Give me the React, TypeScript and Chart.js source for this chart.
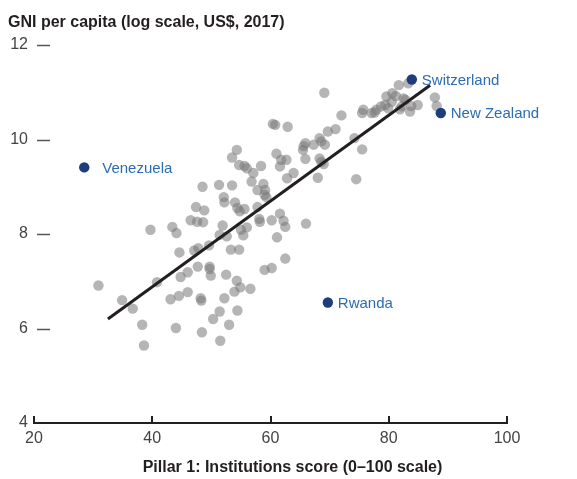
import React, { useEffect, useRef } from "react";
import { Chart, registerables } from "chart.js";

Chart.register(...registerables);

// Axis ticks
const xTicks = [20, 40, 60, 80, 100];
const yTicks = [4, 6, 8, 10, 12];

// Titles
const yTitle = "GNI per capita (log scale, US$, 2017)";
const xTitle = "Pillar 1: Institutions score (0–100 scale)";

// All other economies: institutions score (x) and log GNI per capita (y)
const otherScores = [
  39.7, 43.4, 44.1, 46.5, 47.6, 48.6, 44.6, 47.1, 47.8, 30.9, 40.8, 44.8, 46.0, 34.9, 36.7,
  43.1, 44.5, 46.0, 48.2, 48.3, 38.3, 44.0, 48.4, 38.6, 47.7,
  51.9, 51.4, 52.6, 55.0, 56.0, 55.4, 58.1, 58.2, 60.2, 62.2, 62.5, 66.0, 61.1, 49.6, 53.3,
  54.7, 62.5, 59.0, 60.2, 49.7, 49.7, 49.9, 52.5, 54.3, 54.9, 53.9, 56.6, 52.2, 51.4, 54.4,
  50.3, 53.0, 51.5,
  48.5, 47.4, 48.8,
  60.4, 60.8, 62.9, 54.3, 53.5, 54.7, 55.6, 56.0, 58.4, 57.1, 61.0, 61.8, 62.7, 61.6, 63.9,
  62.8, 56.8, 58.8, 59.1, 57.8, 59.0, 59.3, 51.3, 53.5, 52.1, 52.2, 54.0, 54.4, 54.8, 55.6,
  57.8, 61.6, 65.6, 65.5, 65.9, 67.3, 68.3, 68.6, 69.2, 69.7, 65.9, 68.3, 68.6, 69.0, 68.0,
  69.1,
  81.7, 83.3, 79.6, 80.6, 81.2, 82.5, 82.8, 79.4, 79.9, 80.5, 81.9, 82.2, 83.6, 83.8, 84.9,
  87.8, 88.1, 75.7, 75.5, 77.1, 77.6, 77.9, 78.7, 72.0, 71.0, 74.2, 75.5, 74.5,
];
const otherGni = [
  8.09, 8.15, 8.02, 8.29, 8.26, 8.25, 7.61, 7.65, 7.70, 6.91, 6.98, 7.09, 7.19, 6.60, 6.42,
  6.62, 6.69, 6.77, 6.64, 6.59, 6.08, 6.01, 5.92, 5.64, 7.31,
  8.18, 7.98, 7.95, 8.09, 8.14, 7.97, 8.32, 8.26, 8.29, 8.28, 8.15, 8.22, 7.93, 7.76, 7.67,
  7.67, 7.48, 7.24, 7.28, 7.31, 7.26, 7.12, 7.14, 7.01, 6.87, 6.78, 6.84, 6.64, 6.36, 6.38,
  6.20, 6.08, 5.74,
  9.00, 8.57, 8.50,
  10.33, 10.31, 10.27, 9.78, 9.62, 9.46, 9.44, 9.39, 9.44, 9.29, 9.70, 9.57, 9.57, 9.43, 9.29,
  9.18, 9.11, 9.06, 8.93, 8.93, 8.83, 8.78, 9.04, 9.03, 8.78, 8.67, 8.67, 8.55, 8.48, 8.53,
  8.57, 8.43, 9.86, 9.78, 9.92, 9.89, 10.03, 9.96, 9.89, 10.17, 9.59, 9.60, 9.53, 9.48, 9.19,
  10.99,
  11.15, 11.19, 10.91, 10.98, 10.92, 10.87, 10.84, 10.73, 10.66, 10.80, 10.64, 10.70, 10.59, 10.71, 10.73,
  10.89, 10.71, 10.63, 10.56, 10.56, 10.57, 10.63, 10.70, 10.51, 10.22, 10.03, 9.79, 9.16,
];

// Highlighted economies
const namedCountries = ["Venezuela", "Switzerland", "New Zealand", "Rwanda"];
const namedScores = [28.5, 83.9, 88.8, 69.7];
const namedGni = [9.41, 11.27, 10.56, 6.55];

// Fitted line end points
const fitScores = [32.5, 87.0];
const fitGni = [6.2, 11.15];

const FONT = "'Liberation Sans', Arial, Helvetica, sans-serif";
const INK = "#231f20";
const TICK_COLOR = "#444444";
const LABEL_BLUE = "#2b6cb3";
const DOT_NAVY = "#1f3c7c";

const decorPlugin = {
  id: "decor",
  afterDraw(chart: any) {
    const ctx = chart.ctx as CanvasRenderingContext2D;
    const xs = chart.scales.x;
    const ys = chart.scales.y;
    const area = chart.chartArea;
    ctx.save();

    // upward tick marks on the x axis
    ctx.strokeStyle = INK;
    ctx.lineWidth = 2;
    xTicks.forEach((v) => {
      const px = Math.round(xs.getPixelForValue(v));
      ctx.beginPath();
      ctx.moveTo(px, area.bottom + 1);
      ctx.lineTo(px, area.bottom - 7);
      ctx.stroke();
    });

    // short dashes next to the y labels
    ctx.strokeStyle = "#555555";
    ctx.lineWidth = 1.5;
    yTicks
      .filter((v) => v > ys.min)
      .forEach((v) => {
        const py = Math.round(ys.getPixelForValue(v)) + 0.5;
        ctx.beginPath();
        ctx.moveTo(area.left + 3, py);
        ctx.lineTo(area.left + 16, py);
        ctx.stroke();
      });

    // titles
    ctx.fillStyle = INK;
    ctx.font = `bold 16px ${FONT}`;
    ctx.textBaseline = "alphabetic";
    ctx.textAlign = "left";
    ctx.fillText(yTitle, 8, 27);
    ctx.textAlign = "center";
    ctx.fillText(xTitle, chart.width / 2 + 4, 472);

    // labels of the highlighted economies
    const meta = chart.getDatasetMeta(1);
    ctx.font = `15px ${FONT}`;
    ctx.fillStyle = LABEL_BLUE;
    ctx.textAlign = "left";
    ctx.textBaseline = "middle";
    const gaps: Record<string, number> = { Venezuela: 18 };
    meta.data.forEach((el: any, i: number) => {
      const name = namedCountries[i];
      const gap = gaps[name] ?? 10;
      ctx.fillText(name, el.x + gap, el.y + 1);
    });

    ctx.restore();
  },
};

export default function App() {
  const canvasRef = useRef<HTMLCanvasElement | null>(null);

  useEffect(() => {
    const canvas = canvasRef.current;
    if (!canvas) return;
    Chart.defaults.font.family = FONT;

    const chart = new Chart(canvas, {
      type: "scatter",
      data: {
        datasets: [
          {
            label: "Economies",
            data: otherScores.map((x, i) => ({ x, y: otherGni[i] })),
            backgroundColor: "rgba(120,120,120,0.55)",
            borderWidth: 0,
            pointRadius: 5.2,
            order: 3,
          },
          {
            label: "Highlighted",
            data: namedScores.map((x, i) => ({ x, y: namedGni[i] })),
            backgroundColor: DOT_NAVY,
            borderWidth: 0,
            pointRadius: 5.2,
            order: 1,
          },
          {
            label: "Fit",
            data: fitScores.map((x, i) => ({ x, y: fitGni[i] })),
            showLine: true,
            borderColor: INK,
            borderWidth: 3,
            pointRadius: 0,
            order: 2,
          },
        ],
      },
      options: {
        animation: false,
        responsive: false,
        devicePixelRatio: 1,
        layout: { padding: { left: 10, right: 70, top: 45, bottom: 26 } },
        plugins: {
          legend: { display: false },
          tooltip: { enabled: false },
          title: { display: false },
        },
        scales: {
          x: {
            type: "linear",
            min: 20,
            max: 100,
            afterFit: (s: any) => {
              s.height = 30;
            },
            ticks: {
              stepSize: 20,
              padding: 6,
              color: TICK_COLOR,
              font: { size: 16, family: FONT },
            },
            grid: { display: false, drawTicks: false },
            border: { display: true, color: INK, width: 2 },
          },
          y: {
            type: "linear",
            min: 4,
            max: 12,
            afterFit: (s: any) => {
              s.width = 24;
            },
            ticks: {
              stepSize: 2,
              padding: 6,
              color: TICK_COLOR,
              font: { size: 16, family: FONT },
            },
            grid: { display: false, drawTicks: false },
            border: { display: false },
          },
        },
      },
      plugins: [decorPlugin],
    } as any);

    return () => chart.destroy();
  }, []);

  return (
    <div style={{ position: "absolute", left: 0, top: 0, width: 577, height: 479, background: "#fff" }}>
      <canvas ref={canvasRef} width={577} height={479} style={{ width: 577, height: 479 }} />
    </div>
  );
}
